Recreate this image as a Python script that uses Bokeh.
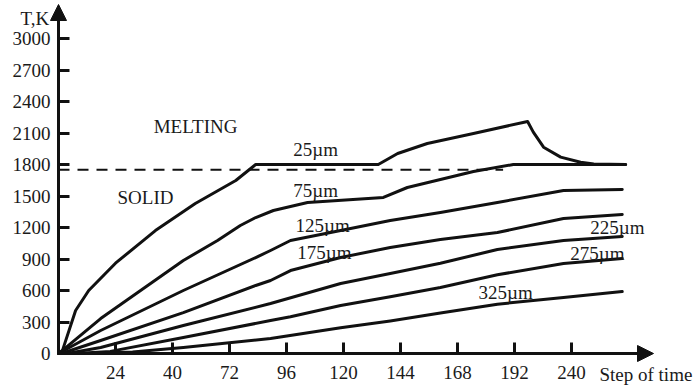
from bokeh.plotting import figure
from bokeh.models import Range1d, LinearAxis, FixedTicker, Arrow, NormalHead
from bokeh.embed import file_html
from bokeh.resources import INLINE
from bokeh.core.properties import value

# ---------------- data ----------------
# x values are positions along the time axis, in tick-slot units
# (tick slot k carries the label x_tick_labels[k-1])
x_tick_pos = [1, 2, 3, 4, 5, 6, 7, 8, 9]
x_tick_labels = ["24", "40", "72", "96", "120", "144", "168", "192", "240"]
y_ticks = [0, 300, 600, 900, 1200, 1500, 1800, 2100, 2400, 2700, 3000]

melting_T = 1750          # dashed melting level
melting_x_end = 7.8

x25 = [0, 0.07, 0.3, 0.53, 1.0, 1.7, 2.4, 3.11, 3.46, 5.61, 5.95, 6.47, 7.28, 8.23, 8.33, 8.51, 8.81, 9.16, 9.39, 9.95]
T25 = [0, 30, 410, 600, 860, 1171, 1429, 1648, 1800, 1800, 1905, 2000, 2095, 2210, 2108, 1965, 1870, 1822, 1805, 1800]

x75 = [0, 0.07, 0.74, 2.19, 2.79, 3.19, 3.46, 3.77, 4.37, 5.7, 6.12, 6.7, 7.28, 7.98, 9.95]
T75 = [0, 30, 333, 886, 1076, 1219, 1295, 1362, 1438, 1486, 1581, 1657, 1733, 1800, 1800]

x125 = [0, 0.74, 2.19, 3.46, 3.72, 4.07, 4.95, 5.82, 6.7, 7.7, 8.86, 9.89]
T125 = [0, 219, 600, 914, 981, 1076, 1171, 1267, 1343, 1438, 1552, 1562]

x175 = [0.05, 0.74, 2.19, 3.46, 3.72, 4.07, 4.95, 5.82, 6.7, 7.7, 8.86, 9.89]
T175 = [0, 124, 390, 648, 695, 790, 914, 1010, 1086, 1152, 1286, 1324]

x225 = [0.15, 0.74, 2.19, 3.72, 4.95, 5.82, 6.7, 7.7, 8.86, 9.89]
T225 = [0, 57, 267, 476, 667, 762, 860, 990, 1076, 1114]

x275 = [0.3, 0.91, 2.19, 3.72, 4.07, 4.95, 5.82, 6.7, 7.7, 8.86, 9.89]
T275 = [0, 20, 152, 314, 350, 457, 540, 629, 750, 857, 905]

x325 = [0.5, 1.3, 2.19, 3.72, 4.95, 5.82, 6.7, 7.7, 8.86, 9.89]
T325 = [0, 15, 57, 143, 245, 310, 385, 470, 533, 590]

curve_names = ["25\u00b5m", "75\u00b5m", "125\u00b5m", "175\u00b5m", "225\u00b5m", "275\u00b5m", "325\u00b5m"]
region_names = ["MELTING", "SOLID"]
y_title = "T,K"
x_title = "Step of time"

# ---------------- figure ----------------
PX_PER_SLOT = 57.0
PX_PER_K = 0.105
W, H = 696, 387
ORIGIN_X, ORIGIN_Y = 58, 353   # pixel position of the origin inside the canvas

p = figure(width=W, height=H,
           x_range=Range1d(-ORIGIN_X / PX_PER_SLOT, (W - ORIGIN_X) / PX_PER_SLOT),
           y_range=Range1d(-(H - ORIGIN_Y) / PX_PER_K, ORIGIN_Y / PX_PER_K),
           x_axis_type=None, y_axis_type=None,
           output_backend="svg", toolbar_location=None, min_border=0)
p.outline_line_color = None
p.background_fill_color = "white"

INK = "#111111"
TXT = "#1a1a1a"
FONT = "Liberation Serif"
FS = "19px"

yaxis = LinearAxis(fixed_location=0,
                   ticker=FixedTicker(ticks=y_ticks, minor_ticks=[]),
                   axis_line_color=None,
                   major_tick_in=11, major_tick_out=0,
                   major_tick_line_width=3, major_tick_line_color=INK,
                   minor_tick_line_color=None,
                   major_label_text_font=FONT, major_label_text_font_size=FS,
                   major_label_text_color=TXT, major_label_standoff=8)
p.add_layout(yaxis, "left")

xaxis = LinearAxis(fixed_location=0,
                   ticker=FixedTicker(ticks=x_tick_pos, minor_ticks=[]),
                   major_label_overrides=dict(zip(x_tick_pos, x_tick_labels)),
                   axis_line_color=None,
                   major_tick_in=11, major_tick_out=0,
                   major_tick_line_width=3, major_tick_line_color=INK,
                   minor_tick_line_color=None,
                   major_label_text_font=FONT, major_label_text_font_size=FS,
                   major_label_text_color=TXT, major_label_standoff=12)
p.add_layout(xaxis, "below")

# axis lines with arrow heads
p.add_layout(Arrow(end=NormalHead(size=16, fill_color=INK, line_color=INK, line_width=1),
                   x_start=0, y_start=0, x_end=595 / PX_PER_SLOT, y_end=0,
                   line_width=3, line_color=INK))
p.add_layout(Arrow(end=NormalHead(size=16, fill_color=INK, line_color=INK, line_width=1),
                   x_start=0, y_start=0, x_end=0, y_end=349 / PX_PER_K,
                   line_width=3, line_color=INK))

# melting level
p.line([0, melting_x_end], [melting_T, melting_T], line_dash="11 8",
       line_width=2, line_color=INK)

# curves
for xs, ts in [(x25, T25), (x75, T75), (x125, T125), (x175, T175),
               (x225, T225), (x275, T275), (x325, T325)]:
    p.line(xs, ts, line_width=3, line_color=INK, line_join="round", line_cap="round")

# curve labels
lab_x = [4.12, 4.12, 4.16, 4.19, 9.33, 8.98, 7.37]
lab_y = [1943, 1552, 1219, 962, 1200, 952, 581]
p.text(x=lab_x, y=lab_y, text=curve_names, text_font=value(FONT),
       text_font_size=FS, text_color=TXT, text_baseline="alphabetic", text_align="left")

# region labels
p.text(x=[1.67, 1.035], y=[2162, 1486], text=region_names, text_font=value(FONT),
       text_font_size=FS, text_color=TXT, text_baseline="alphabetic", text_align="left")

# axis titles
p.text(x=[-0.667], y=[3190], text=[y_title], text_font=value(FONT),
       text_font_size=FS, text_color=TXT, text_baseline="alphabetic", text_align="left")
p.text(x=[11.12], y=[-200], text=[x_title], text_font=value(FONT),
       text_font_size=FS, text_color=TXT, text_baseline="alphabetic", text_align="right")

open("out.html", "w").write(file_html(p, INLINE))
